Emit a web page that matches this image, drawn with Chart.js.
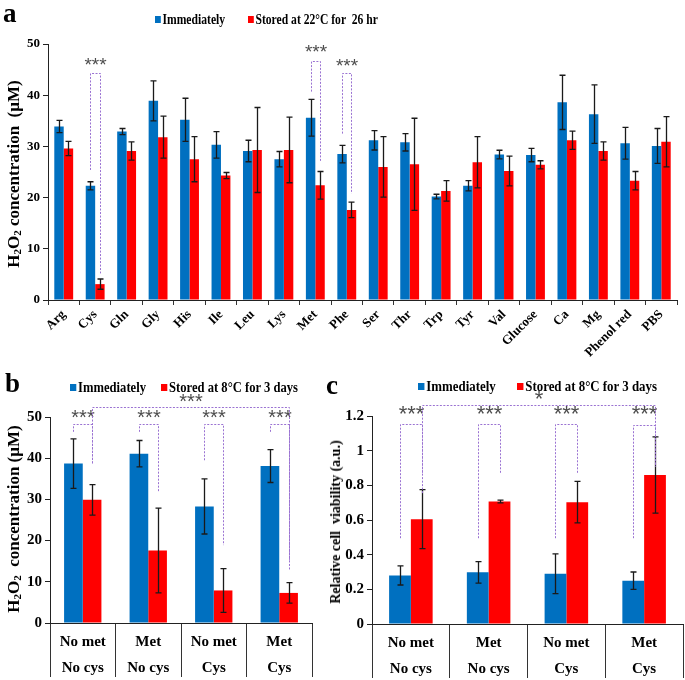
<!DOCTYPE html>
<html lang="en">
<head>
  <meta charset="UTF-8">
  <title>H2O2 concentration and cell viability</title>
  <script src="https://cdn.jsdelivr.net/npm/chart.js"></script>
  <style>
    body { margin: 0; background: #fff; }
    #wrap { position: relative; width: 685px; height: 680px; overflow: hidden; font-family: "Liberation Serif", "Times New Roman", serif; }
    canvas { position: absolute; }
    .txt { position: absolute; font-weight: bold; color: #000; white-space: nowrap; line-height: 1; }
    .letter { font-size: 27px; }
    .ytitle { transform: translate(-50%, -50%) rotate(-90deg); }
    .ytitle sub { font-size: 0.65em; vertical-align: -0.25em; }
    .leg { position: absolute; font-weight: bold; white-space: pre; line-height: 1; transform-origin: left center; }
    .sw { display: inline-block; width: 7px; height: 7px; margin-right: 2px; vertical-align: 1px; }
  </style>
</head>
<body>
  <div id="wrap">
    <canvas id="chartA" width="685" height="365" style="left:0;top:0"></canvas>
    <canvas id="chartB" width="330" height="310" style="left:0;top:370px"></canvas>
    <canvas id="chartC" width="355" height="310" style="left:330px;top:370px"></canvas>

    <div class="txt letter" style="left:3px;top:0px">a</div>
    <div class="txt letter" style="left:5px;top:370px">b</div>
    <div class="txt letter" style="left:326px;top:372px">c</div>

    <div class="txt ytitle" style="left:14px;top:174px;font-size:17px">H<sub>2</sub>O<sub>2</sub> concentration&nbsp; (µM)</div>
    <div class="txt ytitle" style="left:14px;top:519px;font-size:17px">H<sub>2</sub>O<sub>2</sub>&nbsp; concentration (µM)</div>
    <div class="txt ytitle" style="left:336px;top:522px;font-size:14px">Relative cell&nbsp; viability (a.u.)</div>
  </div>
  <script>
    // Panel a: H2O2 in single-component solutions
    const labelsA = ['Arg', 'Cys', 'Gln', 'Gly', 'His', 'Ile', 'Leu', 'Lys', 'Met', 'Phe',
      'Ser', 'Thr', 'Trp', 'Tyr', 'Val', 'Glucose', 'Ca', 'Mg', 'Phenol red', 'PBS'];
    const seriesA = ['Immediately', 'Stored at 22°C for  26 hr'];
    const immediateA = [33.9, 22.3, 32.9, 38.9, 35.2, 30.3, 29.1, 27.5, 35.6, 28.5,
      31.2, 30.8, 20.2, 22.3, 28.4, 28.3, 38.6, 36.3, 30.6, 30.1];
    const immediateErrA = [1.2, 0.8, 0.6, 3.9, 4.2, 2.6, 2.1, 1.5, 3.6, 1.7,
      1.9, 1.7, 0.45, 1.0, 0.85, 1.3, 5.3, 5.7, 3.1, 3.4];
    const storedA = [29.6, 3.1, 29.1, 31.8, 27.5, 24.3, 29.3, 29.3, 22.4, 17.6,
      26.0, 26.5, 21.3, 26.9, 25.2, 26.4, 31.2, 29.1, 23.3, 30.9];
    const storedErrA = [1.4, 1.0, 1.8, 4.1, 4.4, 0.6, 8.3, 6.4, 2.7, 1.5,
      5.9, 9.0, 2.0, 5.0, 2.9, 0.8, 1.8, 1.8, 1.8, 4.9];
    // significance brackets: [dataset, category] for both legs, values for top / leg ends / star baseline
    const bracketsA = [
      { from: [0, 1], to: [1, 1], top: 44.4, leftEnd: 25.4, rightEnd: 5.2, stars: '***', starY: 44.4 },
      { from: [0, 8], to: [1, 8], top: 46.7, leftEnd: 40.7, rightEnd: 27.0, stars: '***', starY: 46.8 },
      { from: [0, 9], to: [1, 9], top: 44.3, leftEnd: 32.5, rightEnd: 20.8, stars: '***', starY: 44.2 }
    ];

    // Panel b: H2O2 in met / cys combinations
    const labelsB = [['No met', 'No cys'], ['Met', 'No cys'], ['No met', 'Cys'], ['Met', 'Cys']];
    const seriesB = ['Immediately', 'Stored at 8°C for 3 days'];
    const immediateB = [38.7, 41.1, 28.3, 38.1];
    const immediateErrB = [6.0, 3.2, 6.7, 4.0];
    const storedB = [29.9, 17.6, 7.9, 7.3];
    const storedErrB = [3.7, 10.3, 5.3, 2.5];
    const bracketsB = [
      { from: [0, 0], to: [1, 0], top: 48.2, leftEnd: 46.4, rightEnd: 39.1, stars: '***', starY: 47.8 },
      { from: [0, 1], to: [1, 1], top: 48.2, leftEnd: 46.4, rightEnd: 31.8, stars: '***', starY: 47.8 },
      { from: [0, 2], to: [1, 2], top: 48.2, leftEnd: 39.5, rightEnd: 18.9, stars: '***', starY: 47.8 },
      { from: [0, 3], to: [1, 3], top: 48.2, leftEnd: 46.4, rightEnd: 15.2, stars: '***', starY: 47.8 },
      { from: [1, 0], to: [1, 3], top: 52.4, leftEnd: 38.7, rightEnd: 12.9, stars: '***', starY: 51.6 }
    ];

    // Panel c: relative cell viability
    const labelsC = [['No met', 'No cys'], ['Met', 'No cys'], ['No met', 'Cys'], ['Met', 'Cys']];
    const seriesC = ['Immediately', 'Stored at 8°C for 3 days'];
    const immediateC = [0.28, 0.298, 0.29, 0.25];
    const immediateErrC = [0.055, 0.062, 0.115, 0.05];
    const storedC = [0.605, 0.707, 0.703, 0.86];
    const storedErrC = [0.17, 0.008, 0.12, 0.22];
    const bracketsC = [
      { from: [0, 0], to: [1, 0], top: 1.156, leftEnd: 0.495, rightEnd: 0.87, stars: '***', starY: 1.161 },
      { from: [0, 1], to: [1, 1], top: 1.156, leftEnd: 0.495, rightEnd: 0.87, stars: '***', starY: 1.161 },
      { from: [0, 2], to: [1, 2], top: 1.156, leftEnd: 0.495, rightEnd: 0.87, stars: '***', starY: 1.161 },
      { from: [0, 3], to: [1, 3], top: 1.15, leftEnd: 0.495, rightEnd: 0.908, stars: '***', starY: 1.161 },
      { from: [1, 0], to: [1, 3], top: 1.265, leftEnd: 0.755, rightEnd: 0.908, stars: '*', starY: 1.248 }
    ];

    const BLUE = '#0070C0';
    const RED = '#FF0000';
    const SERIF = "'Liberation Serif', 'Times New Roman', serif";

    const errorBarPlugin = {
      id: 'errorBars',
      afterDatasetsDraw(chart) {
        const ctx = chart.ctx;
        const y = chart.scales.y;
        ctx.save();
        ctx.strokeStyle = '#1a1a1a';
        ctx.lineWidth = 1.3;
        chart.data.datasets.forEach((ds, di) => {
          const meta = chart.getDatasetMeta(di);
          meta.data.forEach((bar, i) => {
            const v = ds.data[i], e = ds.errors[i];
            const top = y.getPixelForValue(v + e);
            const bot = y.getPixelForValue(v - e);
            const x = Math.round(bar.x) + 0.5;
            ctx.beginPath();
            ctx.moveTo(x, top); ctx.lineTo(x, bot);
            ctx.moveTo(x - 3, top); ctx.lineTo(x + 3, top);
            ctx.moveTo(x - 3, bot); ctx.lineTo(x + 3, bot);
            ctx.stroke();
          });
        });
        ctx.restore();
      }
    };

    const bracketPlugin = {
      id: 'brackets',
      afterDraw(chart, args, opts) {
        const ctx = chart.ctx;
        const y = chart.scales.y;
        ctx.save();
        opts.items.forEach(b => {
          const x1 = Math.round(chart.getDatasetMeta(b.from[0]).data[b.from[1]].x) + 0.5;
          const x2 = Math.round(chart.getDatasetMeta(b.to[0]).data[b.to[1]].x) + 0.5;
          const yt = Math.round(y.getPixelForValue(b.top)) + 0.5;
          ctx.strokeStyle = '#9a72d2';
          ctx.lineWidth = 1;
          ctx.setLineDash([2, 1.5]);
          ctx.beginPath();
          ctx.moveTo(x1, y.getPixelForValue(b.leftEnd));
          ctx.lineTo(x1, yt);
          ctx.lineTo(x2, yt);
          ctx.lineTo(x2, y.getPixelForValue(b.rightEnd));
          ctx.stroke();
          ctx.setLineDash([]);
          ctx.fillStyle = '#4d4d4d';
          ctx.font = opts.starFont;
          ctx.textAlign = 'center';
          ctx.textBaseline = 'alphabetic';
          ctx.fillText(b.stars, (x1 + x2) / 2, y.getPixelForValue(b.starY) - 2);
        });
        ctx.restore();
      }
    };

    function makeChart(id, cfg) {
      return new Chart(document.getElementById(id), {
        type: 'bar',
        data: {
          labels: cfg.labels,
          datasets: [
            { label: cfg.series[0], data: cfg.immediate, errors: cfg.immediateErr, backgroundColor: BLUE,
              categoryPercentage: cfg.catPct, barPercentage: 1.0 },
            { label: cfg.series[1], data: cfg.stored, errors: cfg.storedErr, backgroundColor: RED,
              categoryPercentage: cfg.catPct, barPercentage: 1.0 }
          ]
        },
        options: {
          responsive: false,
          animation: false,
          layout: { padding: { left: 0, top: cfg.padTop, right: cfg.padRight, bottom: 0 } },
          plugins: {
            legend: { display: false },
            tooltip: { enabled: false },
            brackets: { items: cfg.brackets, starFont: cfg.starFont }
          },
          scales: {
            x: {
              grid: { offset: true, drawOnChartArea: false, tickLength: cfg.xTickLen, color: '#333', lineWidth: 1 },
              border: { color: '#222', width: 1 },
              ticks: {
                autoSkip: false,
                minRotation: cfg.rotation, maxRotation: cfg.rotation,
                padding: cfg.xPad,
                color: '#000',
                font: { family: SERIF, weight: 'bold', size: cfg.xFont, lineHeight: cfg.xLine }
              },
              afterFit: s => { s.height = cfg.xHeight; }
            },
            y: {
              min: 0, max: cfg.yMax,
              grid: { drawOnChartArea: false, tickLength: 5, color: '#222' },
              border: { color: '#222', width: 1 },
              ticks: {
                stepSize: cfg.yStep,
                padding: 3,
                color: '#000',
                font: { family: SERIF, weight: 'bold', size: cfg.yFont },
                callback: v => String(+v.toFixed(1))
              },
              afterFit: s => { s.width = cfg.yWidth; }
            }
          }
        },
        plugins: [errorBarPlugin, bracketPlugin]
      });
    }

    makeChart('chartA', {
      labels: labelsA, series: seriesA,
      immediate: immediateA, immediateErr: immediateErrA, stored: storedA, storedErr: storedErrA,
      brackets: bracketsA, starFont: "19px 'Liberation Sans', Arial, sans-serif",
      catPct: 0.6, padTop: 44, padRight: 8, yWidth: 48, xHeight: 65,
      xTickLen: 5, xPad: 2, rotation: 45, xFont: 13, xLine: 1.2,
      yMax: 50, yStep: 10, yFont: 13
    });

    makeChart('chartB', {
      labels: labelsB, series: seriesB,
      immediate: immediateB, immediateErr: immediateErrB, stored: storedB, storedErr: storedErrB,
      brackets: bracketsB, starFont: "20px 'Liberation Sans', Arial, sans-serif",
      catPct: 0.57, padTop: 47, padRight: 18, yWidth: 50, xHeight: 57,
      xTickLen: 54, xPad: -48, rotation: 0, xFont: 15, xLine: '26px',
      yMax: 50, yStep: 10, yFont: 15
    });

    makeChart('chartC', {
      labels: labelsC, series: seriesC,
      immediate: immediateC, immediateErr: immediateErrC, stored: storedC, storedErr: storedErrC,
      brackets: bracketsC, starFont: "22px 'Liberation Sans', Arial, sans-serif",
      catPct: 0.56, padTop: 46, padRight: 2, yWidth: 42, xHeight: 56,
      xTickLen: 54, xPad: -48, rotation: 0, xFont: 15, xLine: '26px',
      yMax: 1.2, yStep: 0.2, yFont: 15
    });

    // legends as html text
    function addLegend(names, left, top, fontSize, scale, gap) {
      const wrap = document.getElementById('wrap');
      [BLUE, RED].forEach((col, i) => {
        const d = document.createElement('div');
        d.className = 'leg';
        d.style.left = (left + i * gap) + 'px';
        d.style.top = top + 'px';
        d.style.fontSize = fontSize + 'px';
        d.style.transform = 'scaleX(' + scale + ')';
        const sw = document.createElement('span');
        sw.className = 'sw';
        sw.style.background = col;
        d.appendChild(sw);
        d.appendChild(document.createTextNode(names[i]));
        wrap.appendChild(d);
      });
    }
    addLegend(seriesA, 155, 13, 14, 0.83, 93);
    addLegend(seriesB, 70, 381, 14, 0.9, 91);
    addLegend(seriesC, 418, 380, 14, 0.92, 99);
  </script>
</body>
</html>
